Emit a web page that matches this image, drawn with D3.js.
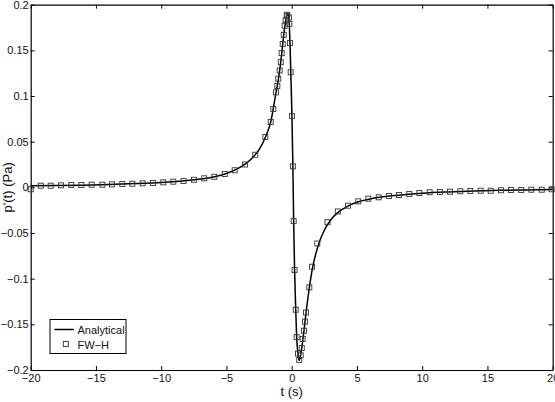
<!DOCTYPE html>
<html>
<head>
<meta charset="utf-8">
<script src="https://cdn.jsdelivr.net/npm/d3@7"></script>
<style>
  body { margin: 0; background: #fff; }
  svg { display: block; font-family: "Liberation Sans", Arial, sans-serif; }
</style>
</head>
<body>
<svg id="chart" width="555" height="402"></svg>
<script>
// analytical solution
const lineT = [-20, -18, -16, -14, -12, -10, -8, -7, -6, -5, -4, -3.5, -3, -2.5, -2, -1.6, -1.2, -1.0, -0.8, -0.6,
  -0.45, -0.36, -0.3, -0.22, -0.13, -0.07, 0.02, 0.09, 0.15, 0.22, 0.31, 0.38, 0.48, 0.57, 0.66, 0.77, 0.94,
  1.1, 1.35, 1.6, 2.0, 2.5, 3.0, 3.5, 4.3, 5.1, 6, 7, 8, 10, 12, 14, 16, 18, 20];
const lineP = [0.0017, 0.0019, 0.0024, 0.0031, 0.0041, 0.0054, 0.0075, 0.0091, 0.0114, 0.0152, 0.0215, 0.0262, 0.0325, 0.0412, 0.0555, 0.0720, 0.1040, 0.1200, 0.1420, 0.1680,
  0.1830, 0.1895, 0.1905, 0.1860, 0.1580, 0.1260, 0.0780, 0.0230, -0.0370, -0.0900, -0.1340, -0.1640, -0.1820, -0.1895, -0.1860, -0.1760, -0.1570,
  -0.1370, -0.1100, -0.0880, -0.0650, -0.0470, -0.0355, -0.0280, -0.0205, -0.0158, -0.0127, -0.0104, -0.0088, -0.0064, -0.0050, -0.0040, -0.0033, -0.0028, -0.0023];

// FW-H samples
const fwhT = [-20, -19.23, -18.47, -17.68, -16.89, -16.12, -15.33, -14.51, -13.77, -12.98, -12.21, -11.42, -10.63, -9.84, -9.07, -8.29,
  -7.49, -6.70, -5.93, -5.13, -4.37, -3.58, -2.79, -2.02, -1.61, -1.41, -1.20, -1.10, -1.03, -0.92, -0.84, -0.77, -0.69, -0.61, -0.54,
  -0.46, -0.38, -0.34, -0.21, -0.18, -0.13, -0.08, 0.02, 0.09, 0.15, 0.22, 0.31, 0.38, 0.48, 0.58, 0.69, 0.77, 0.84, 0.94, 1.02, 1.10,
  1.35, 1.56, 1.96, 2.74, 3.53, 4.31, 5.10, 5.87, 6.67, 7.46, 8.22, 9.01, 9.78, 10.57, 11.36, 12.13, 12.92, 13.69, 14.48, 15.25, 16.04,
  16.80, 17.59, 18.36, 19.16, 19.92];
const fwhP = [-0.0021, 0.0018, 0.0018, 0.0022, 0.0026, 0.0026, 0.0029, 0.0029, 0.0033, 0.0037, 0.0040, 0.0044, 0.0048, 0.0055, 0.0062, 0.0070,
  0.0083, 0.0099, 0.0116, 0.0146, 0.0187, 0.0250, 0.0357, 0.0551, 0.0716, 0.0858, 0.1040, 0.1110, 0.1190, 0.1280, 0.1370, 0.1470, 0.1570, 0.1670, 0.1770,
  0.1830, 0.1880, 0.1890, 0.1860, 0.1790, 0.1580, 0.1260, 0.0780, 0.0230, -0.0370, -0.0905, -0.1340, -0.1640, -0.1820, -0.1890, -0.1840, -0.1760, -0.1660, -0.1570, -0.1470, -0.1370,
  -0.1095, -0.0869, -0.0615, -0.0382, -0.0264, -0.0201, -0.0153, -0.0124, -0.0109, -0.0095, -0.0084, -0.0073, -0.0062, -0.0054, -0.0051, -0.0048, -0.0043, -0.0040, -0.0037, -0.0037, -0.0032,
  -0.0029, -0.0029, -0.0026, -0.0026, -0.0021];

const xTicks = [-20, -15, -10, -5, 0, 5, 10, 15, 20];
const xTickLabels = ["\u221220", "\u221215", "\u221210", "\u22125", "0", "5", "10", "15", "20"];
const yTicks = [0.2, 0.15, 0.1, 0.05, 0, -0.05, -0.1, -0.15, -0.2];
const yTickLabels = ["0.2", "0.15", "0.1", "0.05", "0", "\u22120.05", "\u22120.1", "\u22120.15", "\u22120.2"];

const margin = {top: 4.7, right: 2.3, bottom: 32, left: 30.7};
const W = 555, H = 402;
const svg = d3.select("#chart");

const x = d3.scaleLinear().domain([-20, 20]).range([margin.left, W - margin.right]);
const y = d3.scaleLinear().domain([-0.2, 0.2]).range([H - margin.bottom, margin.top]);

// box + ticks on all sides
const fmt = (arr, labs) => (d) => labs[arr.indexOf(d)];

svg.append("g")
  .attr("transform", `translate(0,${y(-0.2)})`)
  .call(d3.axisBottom(x).tickValues(xTicks).tickFormat(fmt(xTicks, xTickLabels)).tickSizeInner(-4).tickSizeOuter(0).tickPadding(4))
  .call(g => g.selectAll("text").attr("font-size", 11));
svg.append("g")
  .attr("transform", `translate(0,${y(0.2)})`)
  .call(d3.axisTop(x).tickValues(xTicks).tickFormat("").tickSizeInner(-4).tickSizeOuter(0));
svg.append("g")
  .attr("transform", `translate(${x(-20)},0)`)
  .call(d3.axisLeft(y).tickValues(yTicks).tickFormat(fmt(yTicks, yTickLabels)).tickSizeInner(-4).tickSizeOuter(0).tickPadding(2))
  .call(g => g.selectAll("text").attr("font-size", 11));
svg.append("g")
  .attr("transform", `translate(${x(20)},0)`)
  .call(d3.axisRight(y).tickValues(yTicks).tickFormat("").tickSizeInner(-4).tickSizeOuter(0));

svg.selectAll(".domain").attr("stroke", "#000").attr("stroke-width", 1.2);
svg.selectAll(".tick line").attr("stroke", "#000");
svg.selectAll(".tick text").attr("fill", "#111").attr("font-family", "'Liberation Sans', Arial, sans-serif");

// axis titles
svg.append("text")
  .attr("x", x(0)).attr("y", 396)
  .attr("text-anchor", "middle").attr("font-size", 13).attr("fill", "#111")
  .text("t (s)");
svg.append("text")
  .attr("transform", `translate(12,${y(0)}) rotate(-90)`)
  .attr("text-anchor", "middle").attr("font-size", 13).attr("fill", "#111")
  .text("p'(t) (Pa)");

// analytical line
const lineData = lineT.map((t, i) => ({t, p: lineP[i]}));
svg.append("path")
  .datum(lineData)
  .attr("fill", "none")
  .attr("stroke", "#000")
  .attr("stroke-width", 1.5)
  .attr("d", d3.line().x(d => x(d.t)).y(d => y(d.p)).curve(d3.curveMonotoneX));

// FW-H markers
const fwh = fwhT.map((t, i) => ({t, p: fwhP[i]}));
const s = 5;
svg.append("g")
  .selectAll("rect")
  .data(fwh)
  .join("rect")
  .attr("x", d => x(d.t) - s / 2)
  .attr("y", d => y(d.p) - s / 2)
  .attr("width", s)
  .attr("height", s)
  .attr("fill", "none")
  .attr("stroke", "#333")
  .attr("stroke-width", 0.9);

// legend
const leg = svg.append("g").attr("transform", "translate(50,319.5)");
leg.append("rect").attr("width", 76).attr("height", 34)
  .attr("fill", "#fff").attr("stroke", "#000").attr("stroke-width", 1);
leg.append("line").attr("x1", 4.5).attr("x2", 24).attr("y1", 10).attr("y2", 10)
  .attr("stroke", "#000").attr("stroke-width", 1.5);
leg.append("text").attr("x", 27.5).attr("y", 14).attr("font-size", 11).attr("fill", "#111").text("Analytical");
leg.append("rect").attr("x", 15.3 - s / 2 + 0.5).attr("y", 24.5 - s / 2)
  .attr("width", s).attr("height", s).attr("fill", "none").attr("stroke", "#333").attr("stroke-width", 0.9);
leg.append("text").attr("x", 27.5).attr("y", 29).attr("font-size", 11).attr("fill", "#111").text("FW\u2212H");
</script>
</body>
</html>
